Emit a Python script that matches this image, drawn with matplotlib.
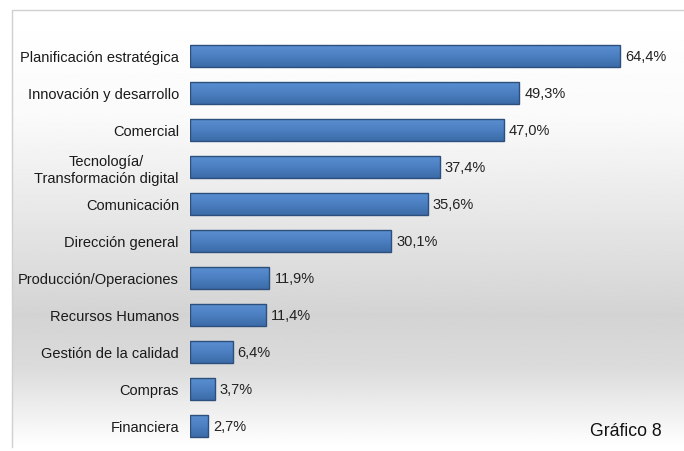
import numpy as np
import matplotlib
matplotlib.use("Agg")
import matplotlib.pyplot as plt
from matplotlib.colors import LinearSegmentedColormap

categories = ["Planificación estratégica", "Innovación y desarrollo", "Comercial",
              "Tecnología/\nTransformación digital", "Comunicación", "Dirección general",
              "Producción/Operaciones", "Recursos Humanos", "Gestión de la calidad",
              "Compras", "Financiera"]
values = [64.4, 49.3, 47.0, 37.4, 35.6, 30.1, 11.9, 11.4, 6.4, 3.7, 2.7]
value_labels = ["64,4%", "49,3%", "47,0%", "37,4%", "35,6%", "30,1%",
                "11,9%", "11,4%", "6,4%", "3,7%", "2,7%"]
caption = "Gráfico 8"

plt.rcParams['font.family'] = ['Liberation Sans', 'DejaVu Sans']

W, H = 684, 452
fig = plt.figure(figsize=(W / 100, H / 100), dpi=100)
fig.patch.set_facecolor('white')

# background gradient panel
bg = fig.add_axes([0, 0, 1, 1], zorder=0)
bg.set_xlim(0, W)
bg.set_ylim(H, 0)
bg.axis('off')
ys = np.linspace(0, 1, 300)
stops = np.array([[0.0, 1.0], [0.25, 0.98], [0.70, 0.83], [0.82, 0.86], [1.0, 1.0]])
g = np.interp(ys, stops[:, 0], stops[:, 1])
img = np.repeat(g[:, None], 2, axis=1)
bg.imshow(img, cmap='gray', vmin=0, vmax=1, extent=[12, W + 2, 448, 10],
          aspect='auto', interpolation='bilinear')
bg.plot([12, 12, W + 2], [448, 10.5, 10.5], color='#d0d0d0', lw=1)

# chart axes
px_per_unit = 6.677
xmax = 70
left_px = 190
ax = fig.add_axes([left_px / W, 1 - 449.2 / H, xmax * px_per_unit / W, (449.2 - 34.8) / H], zorder=1)
ax.patch.set_alpha(0)
y = np.arange(len(categories))
bars = ax.barh(y, values, height=0.62, color='#4a7cbc', edgecolor='#2c4f7c', linewidth=1.0)

# vertical gradient on bars
grad = np.linspace(0, 1, 100)[:, None]
cmap = LinearSegmentedColormap.from_list('b', ['#5b90d2', '#4c80c2', '#3c6ba8'])
for b in bars:
    x0, y0 = b.get_x(), b.get_y()
    w, h = b.get_width(), b.get_height()
    im = ax.imshow(grad, cmap=cmap, extent=[x0, x0 + w, y0 + h, y0], aspect='auto', zorder=2)
    im.set_clip_path(b)
    b.set_zorder(3)
    b.set_facecolor('none')

ax.set_xlim(0, xmax)
ax.set_ylim(len(categories) - 1 + 0.6, -0.6)
ax.set_yticks(y)
ax.set_yticklabels(categories, fontsize=10.5, color='#1a1a1a', multialignment='center')
ax.tick_params(axis='y', length=0, pad=8)
ax.set_xticks([])
for s in ax.spines.values():
    s.set_visible(False)

for yi, v, lab in zip(y, values, value_labels):
    ax.text(v + 0.75, yi, lab, va='center', ha='left', fontsize=10.5, color='#222222')

fig.text(662 / W, 1 - 432 / H, caption, ha='right', va='center', fontsize=12.7, color='#111111')

fig.savefig('out.png', dpi=100, facecolor='white')
